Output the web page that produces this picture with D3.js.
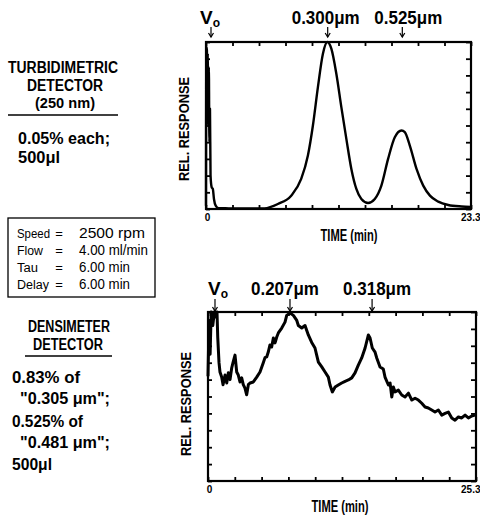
<!DOCTYPE html>
<html><head><meta charset="utf-8">
<script src="https://cdn.jsdelivr.net/npm/d3@7"></script>
<style>
body{margin:0;background:#fff}
svg{display:block}
text{font-family:"Liberation Sans",Arial,Helvetica,sans-serif;fill:#000}
</style>
</head><body>
<svg id="c" width="480" height="518"></svg>
<script>
// ---------------- DATA ----------------
// Top panel: turbidimetric detector trace (time in min, relative response 0..1)
const topTime = [0,0.03,0.08,0.12,0.15,0.2,0.25,0.3,0.35,0.4,0.5,0.6,0.7,0.85,1.1,2,3,4,5.14,6.32,7.49,8.37,8.96,9.40,9.84,10.28,10.67,11.02,11.46,11.90,12.34,12.78,13.22,13.66,14.25,14.84,15.42,16.01,16.60,17.19,17.48,17.92,18.51,19.10,19.69,20.42,21.30,22.48,23.30];
const topResp = [0.02,0.97,0.95,0.6,0.93,0.5,0.85,0.4,0.6,0.2,0.13,0.12,0.06,0.02,0.005,0.004,0.003,0.003,0.004,0.03,0.08,0.18,0.32,0.5,0.73,0.93,1.0,0.96,0.81,0.61,0.42,0.24,0.12,0.06,0.036,0.06,0.14,0.30,0.43,0.47,0.46,0.38,0.24,0.14,0.08,0.044,0.024,0.015,0.012];

// Bottom panel: densimeter detector trace
const botTime = [0,0.1,0.2,0.3,0.45,0.6,0.75,0.85,0.92,1.04,1.13,1.29,1.42,1.61,1.77,1.92,2.08,2.24,2.36,2.55,2.71,2.86,3.02,3.18,3.33,3.49,3.65,3.81,3.97,4.28,4.60,4.91,5.22,5.38,5.54,5.69,5.85,6.01,6.17,6.33,6.49,6.64,6.96,7.27,7.43,7.74,8.06,8.38,8.53,8.85,9.16,9.47,9.79,10.10,10.26,10.42,10.74,11.05,11.36,11.52,11.74,12.0,12.3,12.62,12.94,13.25,13.57,13.88,14.19,14.51,14.83,15.14,15.30,15.51,15.77,15.93,16.24,16.55,16.71,17.03,17.19,17.35,17.5,17.66,17.97,18.29,18.6,18.92,19.24,19.55,19.86,20.18,20.49,20.8,21.12,21.43,21.75,22.07,22.38,22.69,23.01,23.32,23.64,23.95,24.27,24.58,24.9,25.2];
const botResp = [0.62,0.95,0.75,1.0,0.92,1.0,0.97,1.0,0.85,0.70,0.645,0.615,0.57,0.627,0.58,0.64,0.60,0.67,0.70,0.745,0.645,0.627,0.586,0.61,0.57,0.55,0.51,0.57,0.58,0.586,0.615,0.645,0.70,0.73,0.734,0.763,0.805,0.793,0.846,0.817,0.852,0.876,0.905,0.94,0.98,0.994,0.98,0.95,0.92,0.905,0.92,0.864,0.82,0.787,0.745,0.704,0.675,0.645,0.615,0.568,0.527,0.556,0.568,0.58,0.59,0.598,0.61,0.64,0.686,0.728,0.787,0.864,0.846,0.787,0.763,0.728,0.675,0.663,0.615,0.568,0.58,0.497,0.556,0.527,0.538,0.509,0.497,0.52,0.479,0.49,0.479,0.46,0.438,0.432,0.42,0.408,0.42,0.39,0.40,0.408,0.373,0.36,0.379,0.373,0.39,0.373,0.385,0.39];

const topXDomain = [0, 23.3];
const botXDomain = [0, 25.3];
const topXLabels = ["0", "23.3"];
const botXLabels = ["0", "25.3"];
const xTitle = "TIME (min)";
const yTitle = "REL. RESPONSE";

// Peak markers (time in min)
const topPeakTimes = [0.44, 10.7, 17.26];
const topPeakLabels = ["V", "0.300μm", "0.525μm"];
const botPeakTimes = [0.66, 7.74, 15.49];
const botPeakLabels = ["V", "0.207μm", "0.318μm"];

// Side texts
const turbTitle = ["TURBIDIMETRIC", "DETECTOR", "(250 nm)"];
const turbNotes = ["0.05% each;", "500μl"];
const condKeys = ["Speed", "Flow", "Tau", "Delay"];
const condVals = ["2500 rpm", "4.00 ml/min", "6.00 min", "6.00 min"];
const densTitle = ["DENSIMETER", "DETECTOR"];
const densNotes = ["0.83% of", "\"0.305 μm\";", "0.525% of", "\"0.481 μm\";", "500μl"];

// ---------------- DRAW ----------------
const svg = d3.select("#c");
const FONT = '"Liberation Sans",Arial,Helvetica,sans-serif';

function txt(g, s, x, y, opts) {
  const t = g.append("text").attr("x", x).attr("y", y).text(s)
    .attr("font-size", opts.size || 14)
    .attr("font-weight", opts.weight || "bold")
    .attr("text-anchor", opts.anchor || "start");
  if (opts.width) t.attr("textLength", opts.width).attr("lengthAdjust", "spacingAndGlyphs");
  return t;
}

function panel(cfg) {
  const g = svg.append("g");
  const x = d3.scaleLinear().domain(cfg.xDomain).range([cfg.x0, cfg.x1]);
  const y = d3.scaleLinear().domain([0, 1]).range([cfg.y1, cfg.y0]);
  const xt = d3.range(11).map(i => cfg.xDomain[0] + i * (cfg.xDomain[1] - cfg.xDomain[0]) / 10);
  const yt = d3.range(11).map(i => i / 10);

  const line = d3.line().x((d, i) => x(cfg.time[i])).y((d, i) => y(d)).curve(cfg.curve);
  g.append("path").datum(cfg.resp).attr("d", line)
    .attr("fill", "none").attr("stroke", "#000").attr("stroke-width", cfg.lw)
    .attr("stroke-linejoin", "round");

  const styleAxis = a => { a.select(".domain").remove(); a.selectAll("line").attr("stroke", "#000").attr("stroke-width", 1.8); a.selectAll("text").remove(); };
  g.append("g").attr("transform", `translate(0,${cfg.y0})`).call(d3.axisTop(x).tickValues(xt).tickSize(-4)).call(styleAxis);
  g.append("g").attr("transform", `translate(0,${cfg.y1})`).call(d3.axisBottom(x).tickValues(xt).tickSize(-4)).call(styleAxis);
  g.append("g").attr("transform", `translate(${cfg.x1},0)`).call(d3.axisRight(y).tickValues(yt).tickSize(-5)).call(styleAxis);
  g.append("g").attr("transform", `translate(${cfg.x0},0)`).call(d3.axisLeft(y).tickValues(yt).tickSize(-4)).call(styleAxis);

  g.append("rect").attr("x", cfg.x0).attr("y", cfg.y0).attr("width", cfg.x1 - cfg.x0).attr("height", cfg.y1 - cfg.y0)
    .attr("fill", "none").attr("stroke", "#000").attr("stroke-width", 2.2);

  const lab = g.append("g").attr("transform", `translate(0,${cfg.y1})`)
    .call(d3.axisBottom(x).tickValues(cfg.xDomain).tickFormat((d, i) => cfg.xLabels[i]).tickSize(0).tickPadding(5));
  lab.select(".domain").remove();
  lab.selectAll("text").attr("font-size", 10).attr("font-weight", "bold").attr("font-family", FONT).attr("fill", "#000")
    .attr("text-anchor", (d, i) => i === 0 ? "middle" : "end")
    .attr("dx", (d, i) => i === 0 ? 1 : cfg.endDx);

  txt(g, xTitle, cfg.titleX, cfg.titleY, {size: 16, anchor: "middle", width: 57});
  g.append("text").attr("transform", `translate(${cfg.yTitleX},${cfg.yTitleY}) rotate(-90)`)
    .attr("text-anchor", "middle").attr("font-size", 15).attr("font-weight", "bold")
    .attr("textLength", 104).attr("lengthAdjust", "spacingAndGlyphs").text(yTitle);

  cfg.peakTimes.forEach((t, i) => {
    const px = x(t);
    g.append("line").attr("x1", px).attr("x2", px).attr("y1", cfg.arrowTop).attr("y2", cfg.arrowBot)
      .attr("stroke", "#000").attr("stroke-width", 1.2);
    g.append("path").attr("d", `M${px - 2.5},${cfg.arrowBot - 4} L${px},${cfg.arrowBot} L${px + 2.5},${cfg.arrowBot - 4}`)
      .attr("fill", "none").attr("stroke", "#000").attr("stroke-width", 1.2);
    const lbl = cfg.peakLabels[i];
    if (lbl === "V") {
      const t0 = g.append("text").attr("x", px + cfg.voDx).attr("y", cfg.labelY)
        .attr("font-size", 19).attr("font-weight", "bold").attr("text-anchor", "start");
      t0.append("tspan").text("V");
      t0.append("tspan").attr("font-size", 12).attr("dy", 3).text("o");
    } else {
      txt(g, lbl, px + cfg.labelDx[i], cfg.labelY, {size: 19, anchor: "middle", width: 68});
    }
  });
}

panel({
  x0: 206, x1: 471, y0: 42, y1: 209,
  xDomain: topXDomain, xLabels: topXLabels, endDx: 9,
  time: topTime, resp: topResp, curve: d3.curveMonotoneX, lw: 2.4,
  titleX: 349, titleY: 241, yTitleX: 189, yTitleY: 129,
  peakTimes: topPeakTimes, peakLabels: topPeakLabels,
  labelY: 24, arrowTop: 27, arrowBot: 37, voDx: -11, labelDx: [0, -2, 6]
});

panel({
  x0: 208, x1: 476, y0: 312, y1: 481,
  xDomain: botXDomain, xLabels: botXLabels, endDx: 4,
  time: botTime, resp: botResp, curve: d3.curveLinear, lw: 3,
  titleX: 340, titleY: 512, yTitleX: 191, yTitleY: 404,
  peakTimes: botPeakTimes, peakLabels: botPeakLabels,
  labelY: 295, arrowTop: 299, arrowBot: 311, voDx: -7, labelDx: [0, -5, 5]
});

// ---------- left-side annotations ----------
const L = svg.append("g");
txt(L, turbTitle[0], 63, 73, {size: 16, anchor: "middle", width: 110});
txt(L, turbTitle[1], 65, 91, {size: 16, anchor: "middle", width: 76});
txt(L, turbTitle[2], 65, 108, {size: 15, anchor: "middle", width: 60});
L.append("line").attr("x1", 8).attr("x2", 118).attr("y1", 115).attr("y2", 115).attr("stroke", "#000").attr("stroke-width", 1.6);
txt(L, turbNotes[0], 18, 144, {size: 16, width: 92});
txt(L, turbNotes[1], 18, 163, {size: 16, width: 42});

L.append("rect").attr("x", 8).attr("y", 218).attr("width", 147).attr("height", 79)
  .attr("fill", "none").attr("stroke", "#000").attr("stroke-width", 1.3);
const rowY = [238, 255, 272, 289];
const keyW = [33, 26, 21, 32];
const valW = [66, 69, 51, 51];
condKeys.forEach((k, i) => {
  txt(L, k, 17, rowY[i], {size: 12.5, weight: "normal", width: keyW[i]});
  txt(L, "=", 59, rowY[i], {size: 13, weight: "normal", anchor: "middle"});
  txt(L, condVals[i], 79, rowY[i], {size: 14, weight: "normal", width: valW[i]});
});

txt(L, densTitle[0], 69, 332, {size: 16, anchor: "middle", width: 82});
txt(L, densTitle[1], 68, 350, {size: 16, anchor: "middle", width: 70});
L.append("line").attr("x1", 25).attr("x2", 112).attr("y1", 356).attr("y2", 356).attr("stroke", "#000").attr("stroke-width", 1.6);
const dnX = [12, 20, 12, 20, 12];
const dnY = [383, 404, 427, 448, 470];
const dnW = [68, 90, 71, 90, 40];
densNotes.forEach((s, i) => txt(L, s, dnX[i], dnY[i], {size: 16, width: dnW[i]}));
</script>
</body></html>
